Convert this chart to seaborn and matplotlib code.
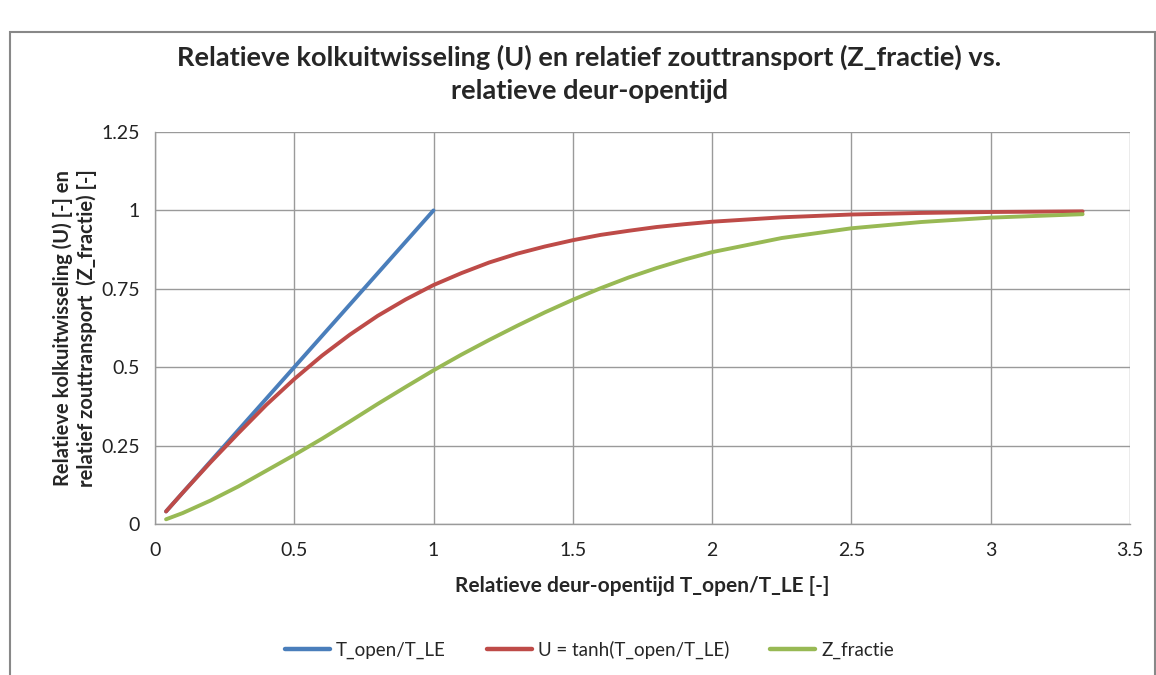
import numpy as np
import pandas as pd
import matplotlib
matplotlib.use("Agg")
import matplotlib.pyplot as plt
import seaborn as sns
from matplotlib.patches import Rectangle
from matplotlib.lines import Line2D

# Data
x_blue = [0.04, 0.1, 0.2, 0.3, 0.4, 0.5, 0.6, 0.7, 0.8, 0.9, 1.0]
y_blue = [0.04, 0.1, 0.2, 0.3, 0.4, 0.5, 0.6, 0.7, 0.8, 0.9, 1.0]

x_vals = [0.04, 0.1, 0.2, 0.3, 0.4, 0.5, 0.6, 0.7, 0.8, 0.9, 1.0,
          1.1, 1.2, 1.3, 1.4, 1.5, 1.6, 1.7, 1.8, 1.9, 2.0,
          2.25, 2.5, 2.75, 3.0, 3.33]
u_vals = [0.04, 0.10, 0.197, 0.29, 0.38, 0.462, 0.537, 0.604, 0.664, 0.716, 0.762,
          0.80, 0.834, 0.862, 0.885, 0.905, 0.922, 0.935, 0.947, 0.956, 0.964,
          0.978, 0.987, 0.992, 0.995, 0.997]
z_vals = [0.015, 0.035, 0.075, 0.12, 0.17, 0.22, 0.272, 0.327, 0.383, 0.437, 0.49,
          0.54, 0.587, 0.632, 0.675, 0.715, 0.752, 0.786, 0.816, 0.843, 0.867,
          0.912, 0.943, 0.963, 0.977, 0.988]

series_names = ["T_open/T_LE", "U = tanh(T_open/T_LE)", "Z_fractie"]
colors = ["#4A7EBB", "#BE4B48", "#98B954"]

x_ticks = [0, 0.5, 1, 1.5, 2, 2.5, 3, 3.5]
x_ticklabels = ["0", "0.5", "1", "1.5", "2", "2.5", "3", "3.5"]
y_ticks = [0, 0.25, 0.5, 0.75, 1, 1.25]
y_ticklabels = ["0", "0.25", "0.5", "0.75", "1", "1.25"]

df = pd.concat([
    pd.DataFrame({"x": x_blue, "y": y_blue, "s": series_names[0]}),
    pd.DataFrame({"x": x_vals, "y": u_vals, "s": series_names[1]}),
    pd.DataFrame({"x": x_vals, "y": z_vals, "s": series_names[2]}),
], ignore_index=True)

sns.set_style("white")
plt.rcParams['font.family'] = ['Lato', 'DejaVu Sans']

fig = plt.figure(figsize=(11.56, 6.75), dpi=100)
ax = fig.add_axes([0.134, 0.2237, 0.8435, 0.5807])

sns.lineplot(data=df, x="x", y="y", hue="s", hue_order=series_names,
             palette=colors, linewidth=2.8, ax=ax, legend=False,
             estimator=None, sort=False)
for ln in ax.lines:
    ln.set_solid_capstyle("round")
    ln.set_solid_joinstyle("round")

ax.set_xlim(0, 3.5)
ax.set_ylim(0, 1.25)
ax.set_xticks(x_ticks)
ax.set_xticklabels(x_ticklabels)
ax.set_yticks(y_ticks)
ax.set_yticklabels(y_ticklabels)
ax.grid(True, color="#9a9a9a", linewidth=1.0)
ax.set_axisbelow(True)
for s in ["top", "right"]:
    ax.spines[s].set_visible(False)
for s in ["left", "bottom"]:
    ax.spines[s].set_color("#9a9a9a")
    ax.spines[s].set_linewidth(1.0)
ax.tick_params(axis="both", which="major", length=5, color="#9a9a9a",
               labelsize=14, labelcolor="#222222", direction="out")
ax.tick_params(axis="x", pad=8)
ax.tick_params(axis="y", pad=6)

ax.set_xlabel("Relatieve deur-opentijd T_open/T_LE [-]", fontsize=15,
              fontweight="bold", labelpad=12)
ax.set_ylabel("Relatieve kolkuitwisseling (U) [-] en\nrelatief zouttransport  (Z_fractie) [-]",
              fontsize=14.5, fontweight="bold", labelpad=3)

fig.text(0.51, 0.891, "Relatieve kolkuitwisseling (U) en relatief zouttransport (Z_fractie) vs.\nrelatieve deur-opentijd",
         ha="center", va="center", fontsize=19.5, fontweight="bold",
         linespacing=1.45)

handles = [Line2D([0], [0], color=c, lw=3.2) for c in colors]
fig.legend(handles, series_names, loc="center", bbox_to_anchor=(0.51, 0.037),
           ncol=3, frameon=False, fontsize=13.5, handlelength=2.4,
           columnspacing=2.2, handletextpad=0.3)

# outer chart border
fig.patches.append(Rectangle((0.009, -0.02), 0.99, 0.972, transform=fig.transFigure,
                             fill=False, edgecolor="#888888", linewidth=1.5))

fig.savefig("out.png", dpi=100)
